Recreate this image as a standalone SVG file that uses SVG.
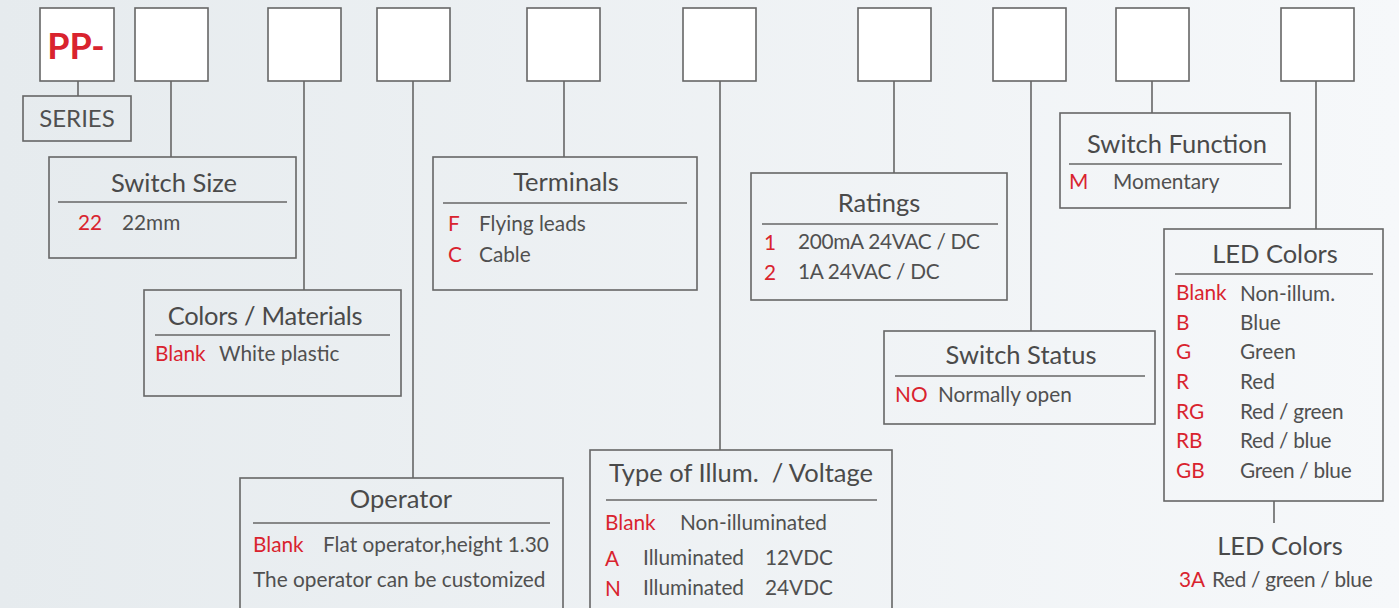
<svg xmlns="http://www.w3.org/2000/svg" width="1399" height="608" viewBox="0 0 1399 608">
<defs>
<linearGradient id="bg" x1="0" y1="0" x2="1" y2="0">
<stop offset="0" stop-color="#e6ebee"/>
<stop offset="1" stop-color="#f6f8fa"/>
</linearGradient>
<style>
.code{fill:#ffffff;stroke:#666;stroke-width:1.6}
.box{fill:none;stroke:#666;stroke-width:1.6}
.ul{stroke:#666;stroke-width:1.6}
.conn line{stroke:#666;stroke-width:1.6}
text{font-family:"Lato","Open Sans","Liberation Sans",sans-serif}
.t{font-size:25.5px;fill:#4a4a4a;text-anchor:middle}
.b{font-size:20.8px;fill:#505050}
.r{font-size:20.8px;fill:#d9232e}
.sl{letter-spacing:-0.3px}
</style>
</defs>
<rect width="1399" height="608" fill="url(#bg)"/>
<g class="conn" id="connectors">
<line x1="78" y1="81" x2="78" y2="96"/>
<line x1="171" y1="81" x2="171" y2="157"/>
<line x1="304" y1="81" x2="304" y2="290"/>
<line x1="413" y1="81" x2="413" y2="478"/>
<line x1="564" y1="81" x2="564" y2="157"/>
<line x1="720" y1="81" x2="720" y2="450"/>
<line x1="894" y1="81" x2="894" y2="173"/>
<line x1="1031" y1="81" x2="1031" y2="331"/>
<line x1="1152" y1="81" x2="1152" y2="113"/>
<line x1="1316" y1="81" x2="1316" y2="229"/>
<line x1="1274" y1="501" x2="1274" y2="523"/>
</g>
<g id="code-boxes">
<rect class="code" x="40" y="8" width="74" height="73"/>
<text x="76" y="59" text-anchor="middle" style="font-size:36px;font-weight:bold;fill:#d9232e">PP-</text>
<rect class="code" x="135" y="8" width="73" height="73"/>
<rect class="code" x="268" y="8" width="73" height="73"/>
<rect class="code" x="377" y="8" width="73" height="73"/>
<rect class="code" x="527" y="8" width="73" height="73"/>
<rect class="code" x="683" y="8" width="73" height="73"/>
<rect class="code" x="858" y="8" width="73" height="73"/>
<rect class="code" x="993" y="8" width="73" height="73"/>
<rect class="code" x="1116" y="8" width="73" height="73"/>
<rect class="code" x="1281" y="8" width="73" height="73"/>
</g>
<g id="series">
<rect class="box" x="23" y="96" width="108" height="45"/>
<text class="b" x="77" y="127" text-anchor="middle" style="font-size:24px">SERIES</text>
</g>
<g id="switch-size">
<rect class="box" x="49" y="157" width="247" height="101"/>
<text class="t" x="174" y="192">Switch Size</text>
<line class="ul" x1="58" y1="202" x2="287" y2="202"/>
<text class="r" x="78" y="230">22</text>
<text class="b" x="122" y="230">22mm</text>
</g>
<g id="colors-materials">
<rect class="box" x="144" y="290" width="257" height="106"/>
<text class="t sl" x="265" y="325">Colors / Materials</text>
<line class="ul" x1="155" y1="335" x2="390" y2="335"/>
<text class="r" x="155" y="361">Blank</text>
<text class="b" x="219" y="361">White plastic</text>
</g>
<g id="operator">
<rect class="box" x="240" y="478" width="323" height="140"/>
<text class="t" x="401" y="508">Operator</text>
<line class="ul" x1="253" y1="523" x2="550" y2="523"/>
<text class="r" x="253" y="552">Blank</text>
<text class="b" x="323" y="552">Flat operator,height 1.30</text>
<text class="b" x="253" y="587">The operator can be customized</text>
</g>
<g id="terminals">
<rect class="box" x="433" y="157" width="264" height="133"/>
<text class="t" x="566" y="191">Terminals</text>
<line class="ul" x1="443" y1="203" x2="687" y2="203"/>
<text class="r" x="448" y="231">F</text>
<text class="b" x="479" y="231">Flying leads</text>
<text class="r" x="448" y="262">C</text>
<text class="b" x="479" y="262">Cable</text>
</g>
<g id="illumination">
<rect class="box" x="590" y="450" width="302" height="170"/>
<text class="t" x="741" y="482" style="white-space:pre">Type of Illum.  / Voltage</text>
<line class="ul" x1="606" y1="500" x2="877" y2="500"/>
<text class="r" x="605" y="530">Blank</text>
<text class="b" x="680" y="530">Non-illuminated</text>
<text class="r" x="605" y="566">A</text>
<text class="b" x="643" y="565">Illuminated</text>
<text class="b" x="765" y="565">12VDC</text>
<text class="r" x="605" y="596">N</text>
<text class="b" x="643" y="595">Illuminated</text>
<text class="b" x="765" y="595">24VDC</text>
</g>
<g id="ratings">
<rect class="box" x="751" y="173" width="256" height="127"/>
<text class="t" x="879" y="212">Ratings</text>
<line class="ul" x1="762" y1="224" x2="998" y2="224"/>
<text class="r" x="764" y="250">1</text>
<text class="b sl" x="798" y="249">200mA 24VAC / DC</text>
<text class="r" x="764" y="280">2</text>
<text class="b sl" x="798" y="279">1A 24VAC / DC</text>
</g>
<g id="switch-status">
<rect class="box" x="884" y="331" width="271" height="93"/>
<text class="t" x="1021" y="364">Switch Status</text>
<line class="ul" x1="895" y1="376" x2="1145" y2="376"/>
<text class="r" x="895" y="402">NO</text>
<text class="b" x="938" y="402">Normally open</text>
</g>
<g id="switch-function">
<rect class="box" x="1060" y="113" width="230" height="95"/>
<text class="t" x="1177" y="153">Switch Function</text>
<line class="ul" x1="1069" y1="164" x2="1282" y2="164"/>
<text class="r" x="1069" y="189">M</text>
<text class="b" x="1113" y="189">Momentary</text>
</g>
<g id="led-colors">
<rect class="box" x="1164" y="229" width="219" height="272"/>
<text class="t" x="1275" y="263">LED Colors</text>
<line class="ul" x1="1175" y1="274" x2="1373" y2="274"/>
<text class="r" x="1176" y="300">Blank</text><text class="b" x="1240" y="301">Non-illum.</text>
<text class="r" x="1176" y="330">B</text><text class="b" x="1240" y="330">Blue</text>
<text class="r" x="1176" y="359">G</text><text class="b" x="1240" y="359">Green</text>
<text class="r" x="1176" y="389">R</text><text class="b" x="1240" y="389">Red</text>
<text class="r" x="1176" y="419">RG</text><text class="b sl" x="1240" y="419">Red / green</text>
<text class="r" x="1176" y="448">RB</text><text class="b sl" x="1240" y="448">Red / blue</text>
<text class="r" x="1176" y="478">GB</text><text class="b sl" x="1240" y="478">Green / blue</text>
</g>
<g id="led-colors-3a">
<text class="t" x="1280" y="555">LED Colors</text>
<text class="r" x="1179" y="587">3A</text>
<text class="b sl" x="1212" y="587">Red / green / blue</text>
</g>
</svg>
